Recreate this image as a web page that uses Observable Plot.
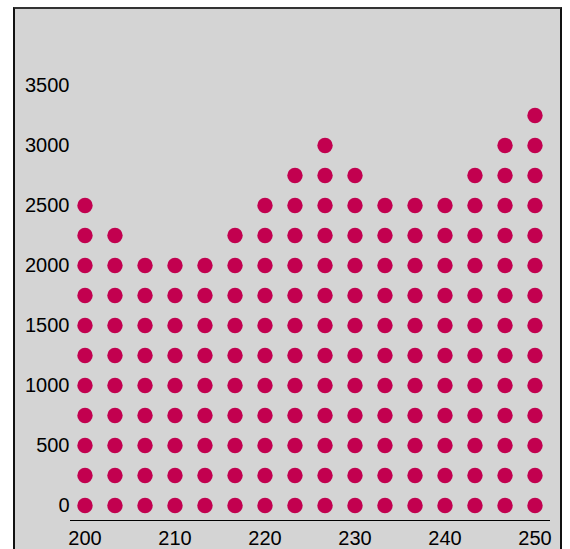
<!DOCTYPE html>
<html>
<head>
<meta charset="utf-8">
<script src="https://cdn.jsdelivr.net/npm/d3@7"></script>
<script src="https://cdn.jsdelivr.net/npm/@observablehq/plot@0.6"></script>
<style>
  html, body { margin: 0; padding: 0; background: #ffffff; overflow: hidden; }
  #chart {
    position: absolute; left: 13px; top: 7px;
    width: 545px; height: 545px;
    background: #d4d4d4;
    border-left: 2px solid #111; border-right: 2px solid #111; border-top: 2px solid #333;
  }
  #chart svg { display: block; }
</style>
</head>
<body>
<div id="chart"></div>
<script>
const columns = [200, 203.33, 206.67, 210, 213.33, 216.67, 220, 223.33, 226.67, 230, 233.33, 236.67, 240, 243.33, 246.67, 250];
const tops    = [2500, 2250, 2000, 2000, 2000, 2250, 2500, 2750, 3000, 2750, 2500, 2500, 2500, 2750, 3000, 3250];
const step = 250;
const xTicks = [200, 210, 220, 230, 240, 250];
const yTicks = [0, 500, 1000, 1500, 2000, 2500, 3000, 3500];

const dots = [];
columns.forEach((x, i) => {
  for (let v = 0; v <= tops[i]; v += step) dots.push({x, y: v});
});

const chart = Plot.plot({
  width: 545,
  height: 545,
  marginLeft: 55,
  marginRight: 11,
  marginTop: 76,
  marginBottom: 34,
  style: {background: "transparent", fontFamily: "'Liberation Sans', Arial, sans-serif", fontSize: "20px", color: "#000"},
  x: {domain: [200, 250], insetLeft: 14.5, insetRight: 14.5, ticks: xTicks, tickFormat: d3.format("d"), tickSize: 0, tickPadding: 10, line: true, label: null},
  y: {domain: [0, 3500], insetBottom: 15, ticks: yTicks, tickFormat: d3.format("d"), tickSize: 0, tickPadding: 1, label: null},
  marks: [
    Plot.dot(dots, {x: "x", y: "y", r: 7.7, fill: "#c2004f", stroke: "none"})
  ]
});
document.getElementById("chart").appendChild(chart);
</script>
</body>
</html>
